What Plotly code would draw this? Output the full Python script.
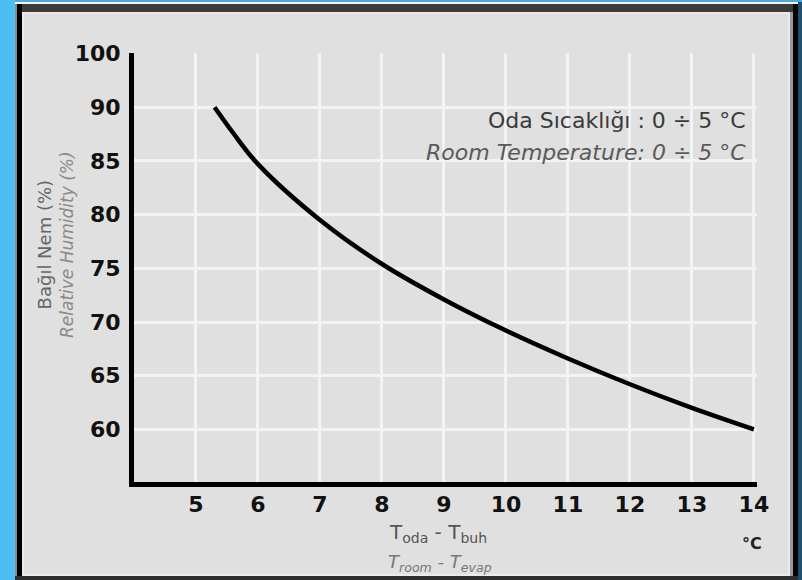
import plotly.graph_objects as go

# ---- data ----
temp_diff = [5.3, 5.6, 6, 7, 8, 9, 10, 11, 12, 13, 14]
rel_humidity = [90.0, 87.6, 84.7, 79.5, 75.4, 72.1, 69.2, 66.6, 64.2, 62.0, 60.0]
x_tickvals = [5, 6, 7, 8, 9, 10, 11, 12, 13, 14]
y_tickvals = [60, 65, 70, 75, 80, 85, 90, 95]
y_ticktext = ["60", "65", "70", "75", "80", "85", "90", "100"]
note_tr = "Oda Sıcaklığı : 0 ÷ 5 °C"
note_en = "Room Temperature: 0 ÷ 5 °C"
ytitle_tr = "Bağıl Nem (%)"
ytitle_en = "Relative Humidity (%)"
xtitle_tr = "T<sub>oda</sub> - T<sub>buh</sub>"
xtitle_en = "T<sub>room</sub> - T<sub>evap</sub>"
unit_label = "°C"

# ---- layout geometry (pixels) ----
W, H = 802, 580
ML, MR, MT, MB = 134, 45, 53, 98
PW, PH = W - ML - MR, H - MT - MB


def px(x):
    return (x - ML) / PW


def py(y):
    return (H - MB - y) / PH


FONT = "DejaVu Sans, Liberation Sans, Arial"
PANEL = "#e0e0e0"

fig = go.Figure()
fig.add_trace(go.Scatter(
    x=temp_diff, y=rel_humidity, mode="lines",
    line=dict(color="#000000", width=4.5, shape="spline", smoothing=1.0),
    hoverinfo="skip", showlegend=False,
))


def rect(x0, y0, x1, y1, color):
    return dict(type="rect", xref="paper", yref="paper",
                x0=px(x0), x1=px(x1), y0=py(y1), y1=py(y0),
                fillcolor=color, line=dict(width=0), layer="above")


shapes = [
    rect(0, 0, 15, 580, "#4cbef4"),       # left blue strip
    rect(15, 0, 802, 2, "#49a9e0"),       # top blue strip
    rect(15, 2, 802, 4, "#f4f4f4"),       # thin white line
    rect(15, 4, 797, 12, "#3b3b3b"),      # top dark bar
    rect(15, 4, 17, 580, "#8a8a8a"),      # left gray edge
    rect(17, 4, 22, 580, "#000000"),      # left black edge
    rect(790, 12, 793, 580, "#9a9a9a"),   # right gray edge
    rect(793, 4, 798, 580, "#050505"),    # right black edge
    rect(798, 2, 802, 580, "#1f4f6e"),    # right blue-dark strip
    rect(15, 576, 798, 580, "#2e2e2e"),   # bottom dark bar
    dict(type="rect", xref="paper", yref="paper",
         x0=px(23), x1=px(789), y0=py(575), y1=py(13),
         line=dict(color="#ebebeb", width=2), layer="below"),
]

annotations = [
    dict(text=note_tr, x=px(748), y=py(120), xref="paper", yref="paper",
         xanchor="right", yanchor="middle", showarrow=False,
         font=dict(family=FONT, size=22, color="#3a3a3a")),
    dict(text="<i>" + note_en + "</i>", x=px(748), y=py(152), xref="paper", yref="paper",
         xanchor="right", yanchor="middle", showarrow=False,
         font=dict(family=FONT, size=22, color="#5a5a5a")),
    dict(text="<span style='color:#666666;font-size:18px'>" + ytitle_tr + "</span><br>"
              "<i><span style='color:#8a8a8a'>" + ytitle_en + "</span></i>",
         x=px(55), y=py(245), xref="paper", yref="paper",
         xanchor="center", yanchor="middle", showarrow=False, textangle=-90,
         font=dict(family=FONT, size=17, color="#777777")),
    dict(text=xtitle_tr, x=px(438), y=py(533), xref="paper", yref="paper",
         xanchor="center", yanchor="middle", showarrow=False,
         font=dict(family=FONT, size=20, color="#555555")),
    dict(text="<i>" + xtitle_en + "</i>", x=px(440), y=py(563), xref="paper", yref="paper",
         xanchor="center", yanchor="middle", showarrow=False,
         font=dict(family=FONT, size=18, color="#777777")),
    dict(text="<b>" + unit_label + "</b>", x=px(752), y=py(543), xref="paper", yref="paper",
         xanchor="center", yanchor="middle", showarrow=False,
         font=dict(family=FONT, size=16, color="#222222")),
]

fig.update_layout(
    width=W, height=H,
    margin=dict(l=ML, r=MR, t=MT, b=MB, pad=0),
    paper_bgcolor=PANEL, plot_bgcolor=PANEL,
    shapes=shapes, annotations=annotations,
    xaxis=dict(range=[4, 14.05], tickvals=x_tickvals, ticks="",
               showgrid=True, gridcolor="#f3f3f3", gridwidth=3,
               showline=True, linecolor="#000000", linewidth=5,
               zeroline=False, ticklabelstandoff=-1,
               tickfont=dict(family=FONT, size=22, color="#111111", weight="bold")),
    yaxis=dict(range=[55.1, 95.05], tickvals=y_tickvals, ticktext=y_ticktext, ticks="",
               showgrid=True, gridcolor="#f3f3f3", gridwidth=3,
               showline=True, linecolor="#000000", linewidth=5,
               zeroline=False, ticklabelstandoff=4,
               tickfont=dict(family=FONT, size=22, color="#111111", weight="bold")),
)

fig.write_html(
    "out.html",
    config={"displayModeBar": False},
    post_script="document.body.style.margin='0';document.body.style.overflow='hidden';",
)
